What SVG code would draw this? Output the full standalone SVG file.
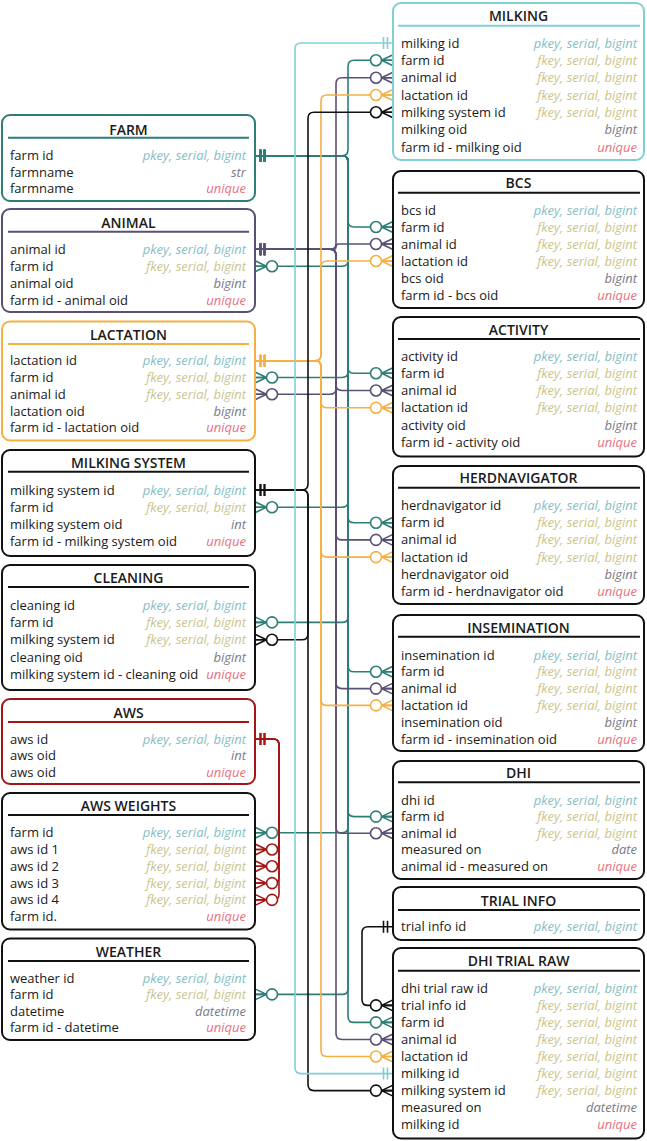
<svg xmlns="http://www.w3.org/2000/svg" width="647" height="1141" viewBox="0 0 647 1141">
<style>
.bg{fill:#fff}
.box{fill:#fff;stroke-width:2}
.ul{stroke-width:2}
.k-teal{stroke:#2f7d77}.k-pur{stroke:#5a5076}.k-org{stroke:#f4b043}.k-blk{stroke:#111}.k-cyan{stroke:#80cfd7}.k-red{stroke:#a41616}
text{font-family:"Open Sans","Liberation Sans",sans-serif;font-size:13px;fill:#1a1a1a}
.ttl{font-size:14px;font-weight:600;text-anchor:middle}
.ty{font-style:italic;text-anchor:end}
.pk{fill:#86bec4}.fk{fill:#cbc58c}.dt{fill:#7a7a88}.uq{fill:#ea6f7e}
.c{fill:none;stroke-width:1.6}
.c.teal{stroke:#2f7d77;marker-start:url(#one-teal);marker-end:url(#crow-teal)}
.c.pur{stroke:#5a5076;marker-start:url(#one-pur);marker-end:url(#crow-pur)}
.c.org{stroke:#f4b043;marker-start:url(#one-org);marker-end:url(#crow-org)}
.c.blk{stroke:#111;marker-start:url(#one-blk);marker-end:url(#crow-blk)}
.c.red{stroke:#a41616;marker-start:url(#one-red);marker-end:url(#crow-red)}
.c.cyan{stroke:#80cfd7;marker-start:url(#one-cyan);marker-end:url(#one-cyan)}
</style>
<defs>
<marker id="one-teal" viewBox="-22 -11 44 22" markerWidth="44" markerHeight="22" refX="0" refY="0" markerUnits="userSpaceOnUse" orient="auto-start-reverse"><path d="M-5.5-6V6M-9.5-6V6" stroke="#2f7d77" stroke-width="1.6"/></marker>
<marker id="one-pur" viewBox="-22 -11 44 22" markerWidth="44" markerHeight="22" refX="0" refY="0" markerUnits="userSpaceOnUse" orient="auto-start-reverse"><path d="M-5.5-6V6M-9.5-6V6" stroke="#5a5076" stroke-width="1.6"/></marker>
<marker id="one-org" viewBox="-22 -11 44 22" markerWidth="44" markerHeight="22" refX="0" refY="0" markerUnits="userSpaceOnUse" orient="auto-start-reverse"><path d="M-5.5-6V6M-9.5-6V6" stroke="#f4b043" stroke-width="1.6"/></marker>
<marker id="one-blk" viewBox="-22 -11 44 22" markerWidth="44" markerHeight="22" refX="0" refY="0" markerUnits="userSpaceOnUse" orient="auto-start-reverse"><path d="M-5.5-6V6M-9.5-6V6" stroke="#111" stroke-width="1.6"/></marker>
<marker id="one-red" viewBox="-22 -11 44 22" markerWidth="44" markerHeight="22" refX="0" refY="0" markerUnits="userSpaceOnUse" orient="auto-start-reverse"><path d="M-5.5-6V6M-9.5-6V6" stroke="#a41616" stroke-width="1.6"/></marker>
<marker id="one-cyan" viewBox="-22 -11 44 22" markerWidth="44" markerHeight="22" refX="0" refY="0" markerUnits="userSpaceOnUse" orient="auto-start-reverse"><path d="M-5.5-6V6M-9.5-6V6" stroke="#80cfd7" stroke-width="1.6"/></marker>
<marker id="crow-teal" viewBox="-26 -13 52 26" markerWidth="52" markerHeight="26" refX="0" refY="0" markerUnits="userSpaceOnUse" orient="auto"><path d="M-11.5 0L0-5.5M-11.5 0L0 5.5M-11.5 0H0" stroke="#2f7d77" stroke-width="1.6" fill="none"/><circle cx="-17" cy="0" r="5.5" fill="#fff" stroke="#2f7d77" stroke-width="1.6"/></marker>
<marker id="crow-pur" viewBox="-26 -13 52 26" markerWidth="52" markerHeight="26" refX="0" refY="0" markerUnits="userSpaceOnUse" orient="auto"><path d="M-11.5 0L0-5.5M-11.5 0L0 5.5M-11.5 0H0" stroke="#5a5076" stroke-width="1.6" fill="none"/><circle cx="-17" cy="0" r="5.5" fill="#fff" stroke="#5a5076" stroke-width="1.6"/></marker>
<marker id="crow-org" viewBox="-26 -13 52 26" markerWidth="52" markerHeight="26" refX="0" refY="0" markerUnits="userSpaceOnUse" orient="auto"><path d="M-11.5 0L0-5.5M-11.5 0L0 5.5M-11.5 0H0" stroke="#f4b043" stroke-width="1.6" fill="none"/><circle cx="-17" cy="0" r="5.5" fill="#fff" stroke="#f4b043" stroke-width="1.6"/></marker>
<marker id="crow-blk" viewBox="-26 -13 52 26" markerWidth="52" markerHeight="26" refX="0" refY="0" markerUnits="userSpaceOnUse" orient="auto"><path d="M-11.5 0L0-5.5M-11.5 0L0 5.5M-11.5 0H0" stroke="#111" stroke-width="1.6" fill="none"/><circle cx="-17" cy="0" r="5.5" fill="#fff" stroke="#111" stroke-width="1.6"/></marker>
<marker id="crow-red" viewBox="-26 -13 52 26" markerWidth="52" markerHeight="26" refX="0" refY="0" markerUnits="userSpaceOnUse" orient="auto"><path d="M-11.5 0L0-5.5M-11.5 0L0 5.5M-11.5 0H0" stroke="#a41616" stroke-width="1.6" fill="none"/><circle cx="-17" cy="0" r="5.5" fill="#fff" stroke="#a41616" stroke-width="1.6"/></marker>
</defs>
<rect class="bg" x="0" y="0" width="647" height="1141"/>

<g id="connectors">
<!-- farm id (teal) -->
<path class="c teal" d="M255 155.7H342Q348 155.7 348 149.7V66.3Q348 60.3 354 60.3H393"/>
<path class="c teal" d="M255 155.7H342Q348 155.7 348 161.7V221Q348 227 354 227H393"/>
<path class="c teal" d="M255 155.7H342Q348 155.7 348 161.7V367.3Q348 373.3 354 373.3H393"/>
<path class="c teal" d="M255 155.7H342Q348 155.7 348 161.7V516.7Q348 522.7 354 522.7H393"/>
<path class="c teal" d="M255 155.7H342Q348 155.7 348 161.7V665.8Q348 671.8 354 671.8H393"/>
<path class="c teal" d="M255 155.7H342Q348 155.7 348 161.7V810.6Q348 816.6 354 816.6H393"/>
<path class="c teal" d="M255 155.7H342Q348 155.7 348 161.7V1016.4Q348 1022.4 354 1022.4H393"/>
<path class="c teal" d="M255 155.7H342Q348 155.7 348 161.7V260.2Q348 266.2 342 266.2H255"/>
<path class="c teal" d="M255 155.7H342Q348 155.7 348 161.7V371.5Q348 377.5 342 377.5H255"/>
<path class="c teal" d="M255 155.7H342Q348 155.7 348 161.7V501.2Q348 507.2 342 507.2H255"/>
<path class="c teal" d="M255 155.7H342Q348 155.7 348 161.7V616.4Q348 622.4 342 622.4H255"/>
<path class="c teal" d="M255 155.7H342Q348 155.7 348 161.7V826.7Q348 832.7 342 832.7H255"/>
<path class="c teal" d="M255 155.7H342Q348 155.7 348 161.7V988.4Q348 994.4 342 994.4H255"/>
<!-- animal id (purple) -->
<path class="c pur" d="M255 249.3H330Q336 249.3 336 243.3V83.7Q336 77.7 342 77.7H393"/>
<path class="c pur" d="M255 249.3H333.35Q336 249.3 336 246.65Q336 244 338.65 244H393"/>
<path class="c pur" d="M255 249.3H330Q336 249.3 336 255.3V384.5Q336 390.5 342 390.5H393"/>
<path class="c pur" d="M255 249.3H330Q336 249.3 336 255.3V533.9Q336 539.9 342 539.9H393"/>
<path class="c pur" d="M255 249.3H330Q336 249.3 336 255.3V682.6Q336 688.6 342 688.6H393"/>
<path class="c pur" d="M255 249.3H330Q336 249.3 336 255.3V827.2Q336 833.2 342 833.2H393"/>
<path class="c pur" d="M255 249.3H330Q336 249.3 336 255.3V1033.5Q336 1039.5 342 1039.5H393"/>
<path class="c pur" d="M255 249.3H330Q336 249.3 336 255.3V388.2Q336 394.2 330 394.2H255"/>
<!-- lactation id (orange) -->
<path class="c org" d="M255 360.7H315Q321 360.7 321 354.7V101Q321 95 327 95H393"/>
<path class="c org" d="M255 360.7H315Q321 360.7 321 354.7V267Q321 261 327 261H393"/>
<path class="c org" d="M255 360.7H315Q321 360.7 321 366.7V401.8Q321 407.8 327 407.8H393"/>
<path class="c org" d="M255 360.7H315Q321 360.7 321 366.7V551.1Q321 557.1 327 557.1H393"/>
<path class="c org" d="M255 360.7H315Q321 360.7 321 366.7V699.4Q321 705.4 327 705.4H393"/>
<path class="c org" d="M255 360.7H315Q321 360.7 321 366.7V1050.5Q321 1056.5 327 1056.5H393"/>
<!-- milking system id (black) -->
<path class="c blk" d="M255 490H302Q308 490 308 484V118.3Q308 112.3 314 112.3H393"/>
<path class="c blk" d="M255 490H302Q308 490 308 496V633.8Q308 639.8 302 639.8H255"/>
<path class="c blk" d="M255 490H302Q308 490 308 496V1084.6Q308 1090.6 314 1090.6H393"/>
<!-- milking id (cyan) -->
<path class="c cyan" d="M393 43H301Q295 43 295 49V1067.6Q295 1073.6 301 1073.6H393"/>
<!-- trial info id (black) -->
<path class="c blk" d="M393 926.7H368Q362 926.7 362 932.7V999.4Q362 1005.4 368 1005.4H393"/>
<!-- aws id (red) -->
<path class="c red" d="M255 739H273Q279 739 279 745V843.5Q279 849.5 273 849.5H255"/>
<path class="c red" d="M255 739H273Q279 739 279 745V860.3Q279 866.3 273 866.3H255"/>
<path class="c red" d="M255 739H273Q279 739 279 745V877.1Q279 883.1 273 883.1H255"/>
<path class="c red" d="M255 739H273Q279 739 279 745V893.9Q279 899.9 273 899.9H255"/>
</g>

<g id="farm">
<rect class="box k-teal" x="2" y="115" width="253" height="86" rx="8"/>
<text class="ttl" x="128.5" y="135">FARM</text>
<line class="ul k-teal" x1="8" y1="137.7" x2="249" y2="137.7"/>
<text x="10" y="160.2">farm id</text><text class="ty pk" x="246" y="160.2">pkey, serial, bigint</text>
<text x="10" y="176.6">farmname</text><text class="ty dt" x="246" y="176.6">str</text>
<text x="10" y="193">farmname</text><text class="ty uq" x="246" y="193">unique</text>
</g>

<g id="animal">
<rect class="box k-pur" x="2" y="209" width="253" height="103" rx="8"/>
<text class="ttl" x="128.5" y="228">ANIMAL</text>
<line class="ul k-pur" x1="8" y1="231.7" x2="249" y2="231.7"/>
<text x="10" y="253.8">animal id</text><text class="ty pk" x="246" y="253.8">pkey, serial, bigint</text>
<text x="10" y="270.7">farm id</text><text class="ty fk" x="246" y="270.7">fkey, serial, bigint</text>
<text x="10" y="287.6">animal oid</text><text class="ty dt" x="246" y="287.6">bigint</text>
<text x="10" y="304.5">farm id - animal oid</text><text class="ty uq" x="246" y="304.5">unique</text>
</g>

<g id="lactation">
<rect class="box k-org" x="2" y="321.5" width="253" height="119" rx="8"/>
<text class="ttl" x="128.5" y="340">LACTATION</text>
<line class="ul k-org" x1="8" y1="344" x2="249" y2="344"/>
<text x="10" y="365.2">lactation id</text><text class="ty pk" x="246" y="365.2">pkey, serial, bigint</text>
<text x="10" y="382">farm id</text><text class="ty fk" x="246" y="382">fkey, serial, bigint</text>
<text x="10" y="398.7">animal id</text><text class="ty fk" x="246" y="398.7">fkey, serial, bigint</text>
<text x="10" y="415.5">lactation oid</text><text class="ty dt" x="246" y="415.5">bigint</text>
<text x="10" y="432.2">farm id - lactation oid</text><text class="ty uq" x="246" y="432.2">unique</text>
</g>

<g id="milking-system">
<rect class="box k-blk" x="2" y="450" width="253" height="106" rx="8"/>
<text class="ttl" x="128.5" y="467.7">MILKING SYSTEM</text>
<line class="ul k-blk" x1="8" y1="471.7" x2="249" y2="471.7"/>
<text x="10" y="494.5">milking system id</text><text class="ty pk" x="246" y="494.5">pkey, serial, bigint</text>
<text x="10" y="511.7">farm id</text><text class="ty fk" x="246" y="511.7">fkey, serial, bigint</text>
<text x="10" y="529">milking system oid</text><text class="ty dt" x="246" y="529">int</text>
<text x="10" y="546.2">farm id - milking system oid</text><text class="ty uq" x="246" y="546.2">unique</text>
</g>

<g id="cleaning">
<rect class="box k-blk" x="2" y="565" width="253" height="125" rx="8"/>
<text class="ttl" x="128.5" y="583">CLEANING</text>
<line class="ul k-blk" x1="8" y1="587" x2="249" y2="587"/>
<text x="10" y="609.5">cleaning id</text><text class="ty pk" x="246" y="609.5">pkey, serial, bigint</text>
<text x="10" y="626.9">farm id</text><text class="ty fk" x="246" y="626.9">fkey, serial, bigint</text>
<text x="10" y="644.3">milking system id</text><text class="ty fk" x="246" y="644.3">fkey, serial, bigint</text>
<text x="10" y="661.6">cleaning oid</text><text class="ty dt" x="246" y="661.6">bigint</text>
<text x="10" y="679">milking system id - cleaning oid</text><text class="ty uq" x="246" y="679">unique</text>
</g>

<g id="aws">
<rect class="box k-red" x="2" y="699" width="253" height="85" rx="8"/>
<text class="ttl" x="128.5" y="717.7">AWS</text>
<line class="ul k-red" x1="8" y1="722" x2="249" y2="722"/>
<text x="10" y="743.5">aws id</text><text class="ty pk" x="246" y="743.5">pkey, serial, bigint</text>
<text x="10" y="760.2">aws oid</text><text class="ty dt" x="246" y="760.2">int</text>
<text x="10" y="777">aws oid</text><text class="ty uq" x="246" y="777">unique</text>
</g>

<g id="aws-weights">
<rect class="box k-blk" x="2" y="793" width="253" height="136.5" rx="8"/>
<text class="ttl" x="128.5" y="811">AWS WEIGHTS</text>
<line class="ul k-blk" x1="8" y1="815" x2="249" y2="815"/>
<text x="10" y="837.2">farm id</text><text class="ty pk" x="246" y="837.2">pkey, serial, bigint</text>
<text x="10" y="854">aws id 1</text><text class="ty fk" x="246" y="854">fkey, serial, bigint</text>
<text x="10" y="870.8">aws id 2</text><text class="ty fk" x="246" y="870.8">fkey, serial, bigint</text>
<text x="10" y="887.6">aws id 3</text><text class="ty fk" x="246" y="887.6">fkey, serial, bigint</text>
<text x="10" y="904.4">aws id 4</text><text class="ty fk" x="246" y="904.4">fkey, serial, bigint</text>
<text x="10" y="921.2">farm id.</text><text class="ty uq" x="246" y="921.2">unique</text>
</g>

<g id="weather">
<rect class="box k-blk" x="2" y="938.5" width="253" height="101.5" rx="8"/>
<text class="ttl" x="128.5" y="956.7">WEATHER</text>
<line class="ul k-blk" x1="8" y1="961" x2="249" y2="961"/>
<text x="10" y="982.8">weather id</text><text class="ty pk" x="246" y="982.8">pkey, serial, bigint</text>
<text x="10" y="999.2">farm id</text><text class="ty fk" x="246" y="999.2">fkey, serial, bigint</text>
<text x="10" y="1015.6">datetime</text><text class="ty dt" x="246" y="1015.6">datetime</text>
<text x="10" y="1032">farm id - datetime</text><text class="ty uq" x="246" y="1032">unique</text>
</g>

<g id="milking">
<rect class="box k-cyan" x="393" y="3" width="251" height="157" rx="8"/>
<text class="ttl" x="518.5" y="21">MILKING</text>
<line class="ul k-cyan" x1="398" y1="25.7" x2="640" y2="25.7"/>
<text x="401" y="47.5">milking id</text><text class="ty pk" x="637" y="47.5">pkey, serial, bigint</text>
<text x="401" y="64.8">farm id</text><text class="ty fk" x="637" y="64.8">fkey, serial, bigint</text>
<text x="401" y="82.2">animal id</text><text class="ty fk" x="637" y="82.2">fkey, serial, bigint</text>
<text x="401" y="99.5">lactation id</text><text class="ty fk" x="637" y="99.5">fkey, serial, bigint</text>
<text x="401" y="116.8">milking system id</text><text class="ty fk" x="637" y="116.8">fkey, serial, bigint</text>
<text x="401" y="134.2">milking oid</text><text class="ty dt" x="637" y="134.2">bigint</text>
<text x="401" y="151.5">farm id - milking oid</text><text class="ty uq" x="637" y="151.5">unique</text>
</g>

<g id="bcs">
<rect class="box k-blk" x="393" y="171" width="251" height="137" rx="8"/>
<text class="ttl" x="518.5" y="188.3">BCS</text>
<line class="ul k-blk" x1="398" y1="192.7" x2="640" y2="192.7"/>
<text x="401" y="214.5">bcs id</text><text class="ty pk" x="637" y="214.5">pkey, serial, bigint</text>
<text x="401" y="231.5">farm id</text><text class="ty fk" x="637" y="231.5">fkey, serial, bigint</text>
<text x="401" y="248.5">animal id</text><text class="ty fk" x="637" y="248.5">fkey, serial, bigint</text>
<text x="401" y="265.5">lactation id</text><text class="ty fk" x="637" y="265.5">fkey, serial, bigint</text>
<text x="401" y="282.5">bcs oid</text><text class="ty dt" x="637" y="282.5">bigint</text>
<text x="401" y="299.5">farm id - bcs oid</text><text class="ty uq" x="637" y="299.5">unique</text>
</g>

<g id="activity">
<rect class="box k-blk" x="393" y="317" width="251" height="139.5" rx="8"/>
<text class="ttl" x="518.5" y="335">ACTIVITY</text>
<line class="ul k-blk" x1="398" y1="339" x2="640" y2="339"/>
<text x="401" y="360.5">activity id</text><text class="ty pk" x="637" y="360.5">pkey, serial, bigint</text>
<text x="401" y="377.8">farm id</text><text class="ty fk" x="637" y="377.8">fkey, serial, bigint</text>
<text x="401" y="395">animal id</text><text class="ty fk" x="637" y="395">fkey, serial, bigint</text>
<text x="401" y="412.3">lactation id</text><text class="ty fk" x="637" y="412.3">fkey, serial, bigint</text>
<text x="401" y="429.5">activity oid</text><text class="ty dt" x="637" y="429.5">bigint</text>
<text x="401" y="446.8">farm id - activity oid</text><text class="ty uq" x="637" y="446.8">unique</text>
</g>

<g id="herdnavigator">
<rect class="box k-blk" x="393" y="466" width="251" height="138" rx="8"/>
<text class="ttl" x="518.5" y="483.3">HERDNAVIGATOR</text>
<line class="ul k-blk" x1="398" y1="487.7" x2="640" y2="487.7"/>
<text x="401" y="510">herdnavigator id</text><text class="ty pk" x="637" y="510">pkey, serial, bigint</text>
<text x="401" y="527.2">farm id</text><text class="ty fk" x="637" y="527.2">fkey, serial, bigint</text>
<text x="401" y="544.4">animal id</text><text class="ty fk" x="637" y="544.4">fkey, serial, bigint</text>
<text x="401" y="561.6">lactation id</text><text class="ty fk" x="637" y="561.6">fkey, serial, bigint</text>
<text x="401" y="578.8">herdnavigator oid</text><text class="ty dt" x="637" y="578.8">bigint</text>
<text x="401" y="596">farm id - herdnavigator oid</text><text class="ty uq" x="637" y="596">unique</text>
</g>

<g id="insemination">
<rect class="box k-blk" x="393" y="615" width="251" height="136" rx="8"/>
<text class="ttl" x="518.5" y="633.3">INSEMINATION</text>
<line class="ul k-blk" x1="398" y1="636.7" x2="640" y2="636.7"/>
<text x="401" y="659.5">insemination id</text><text class="ty pk" x="637" y="659.5">pkey, serial, bigint</text>
<text x="401" y="676.3">farm id</text><text class="ty fk" x="637" y="676.3">fkey, serial, bigint</text>
<text x="401" y="693.1">animal id</text><text class="ty fk" x="637" y="693.1">fkey, serial, bigint</text>
<text x="401" y="709.9">lactation id</text><text class="ty fk" x="637" y="709.9">fkey, serial, bigint</text>
<text x="401" y="726.7">insemination oid</text><text class="ty dt" x="637" y="726.7">bigint</text>
<text x="401" y="743.5">farm id - insemination oid</text><text class="ty uq" x="637" y="743.5">unique</text>
</g>

<g id="dhi">
<rect class="box k-blk" x="393" y="761" width="251" height="118" rx="8"/>
<text class="ttl" x="518.5" y="778.3">DHI</text>
<line class="ul k-blk" x1="398" y1="782.3" x2="640" y2="782.3"/>
<text x="401" y="804.5">dhi id</text><text class="ty pk" x="637" y="804.5">pkey, serial, bigint</text>
<text x="401" y="821.1">farm id</text><text class="ty fk" x="637" y="821.1">fkey, serial, bigint</text>
<text x="401" y="837.7">animal id</text><text class="ty fk" x="637" y="837.7">fkey, serial, bigint</text>
<text x="401" y="854.4">measured on</text><text class="ty dt" x="637" y="854.4">date</text>
<text x="401" y="871">animal id - measured on</text><text class="ty uq" x="637" y="871">unique</text>
</g>

<g id="trial-info">
<rect class="box k-blk" x="393" y="887" width="251" height="53" rx="8"/>
<text class="ttl" x="518.5" y="905.7">TRIAL INFO</text>
<line class="ul k-blk" x1="398" y1="910" x2="640" y2="910"/>
<text x="401" y="931.2">trial info id</text><text class="ty pk" x="637" y="931.2">pkey, serial, bigint</text>
</g>

<g id="dhi-trial-raw">
<rect class="box k-blk" x="393" y="948" width="251" height="190.5" rx="8"/>
<text class="ttl" x="518.5" y="966">DHI TRIAL RAW</text>
<line class="ul k-blk" x1="398" y1="970.7" x2="640" y2="970.7"/>
<text x="401" y="992.8">dhi trial raw id</text><text class="ty pk" x="637" y="992.8">pkey, serial, bigint</text>
<text x="401" y="1009.9">trial info id</text><text class="ty fk" x="637" y="1009.9">fkey, serial, bigint</text>
<text x="401" y="1026.9">farm id</text><text class="ty fk" x="637" y="1026.9">fkey, serial, bigint</text>
<text x="401" y="1044">animal id</text><text class="ty fk" x="637" y="1044">fkey, serial, bigint</text>
<text x="401" y="1061">lactation id</text><text class="ty fk" x="637" y="1061">fkey, serial, bigint</text>
<text x="401" y="1078.1">milking id</text><text class="ty fk" x="637" y="1078.1">fkey, serial, bigint</text>
<text x="401" y="1095.1">milking system id</text><text class="ty fk" x="637" y="1095.1">fkey, serial, bigint</text>
<text x="401" y="1112.2">measured on</text><text class="ty dt" x="637" y="1112.2">datetime</text>
<text x="401" y="1129.2">milking id</text><text class="ty uq" x="637" y="1129.2">unique</text>
</g>
</svg>
